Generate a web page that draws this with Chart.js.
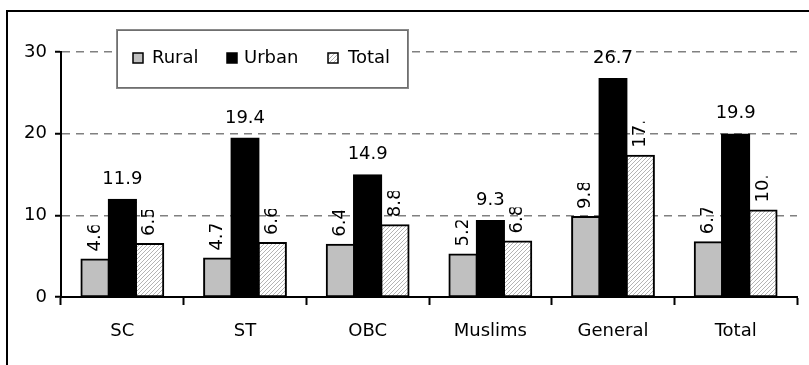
<!DOCTYPE html>
<html>
<head>
<meta charset="utf-8">
<script src="https://cdn.jsdelivr.net/npm/chart.js@4.4.1/dist/chart.umd.min.js"></script>
<style>
  html, body { margin: 0; padding: 0; background: #fff; }
  #wrap { width: 809px; height: 365px; }
</style>
</head>
<body>
<div id="wrap"><canvas id="c" width="809" height="365"></canvas></div>
<script>
// Categories and series values
const categories = ['SC', 'ST', 'OBC', 'Muslims', 'General', 'Total'];
const seriesNames = ['Rural', 'Urban', 'Total'];
const rural = [4.6, 4.7, 6.4, 5.2, 9.8, 6.7];
const urban = [11.9, 19.4, 14.9, 9.3, 26.7, 19.9];
const total = [6.5, 6.6, 8.8, 6.8, 17.3, 10.6];
const yTicks = [0, 10, 20, 30];

const FONT = '"DejaVu Sans", Verdana, sans-serif';

// Light diagonal hatch fill for the Total series
function makeHatch() {
  const n = 4;
  const c = document.createElement('canvas');
  c.width = n; c.height = n;
  const g = c.getContext('2d');
  g.fillStyle = '#ffffff';
  g.fillRect(0, 0, n, n);
  g.strokeStyle = '#b4b4b4';
  g.lineWidth = 1;
  g.beginPath();
  g.moveTo(0, n); g.lineTo(n, 0);
  g.moveTo(-1, 1); g.lineTo(1, -1);
  g.moveTo(n - 1, n + 1); g.lineTo(n + 1, n - 1);
  g.stroke();
  return g.createPattern(c, 'repeat');
}
const hatch = makeHatch();

// White page with the frame line along the top and left
const framePlugin = {
  id: 'frame',
  beforeDraw(chart) {
    const ctx = chart.ctx;
    ctx.save();
    ctx.fillStyle = '#fff';
    ctx.fillRect(0, 0, chart.width, chart.height);
    ctx.strokeStyle = '#000';
    ctx.lineWidth = 2;
    ctx.strokeRect(7, 11, chart.width + 20, chart.height + 20);
    ctx.restore();
  }
};

// Value labels: Urban upright above the bar, the others turned and clipped
const labelPlugin = {
  id: 'valueLabels',
  afterDatasetsDraw(chart) {
    const ctx = chart.ctx;
    ctx.save();
    ctx.font = '18px ' + FONT;
    ctx.fillStyle = '#000';
    chart.data.datasets.forEach((ds, di) => {
      const meta = chart.getDatasetMeta(di);
      meta.data.forEach((bar, i) => {
        const txt = ds.data[i].toFixed(1);
        if (di === 1) {
          ctx.textAlign = 'center';
          ctx.textBaseline = 'alphabetic';
          ctx.fillText(txt, bar.x, bar.y - 16);
        } else {
          ctx.save();
          ctx.translate(bar.x, bar.y - 8);
          ctx.rotate(-Math.PI / 2);
          ctx.beginPath();
          ctx.rect(0, -15, 26, 30);
          ctx.clip();
          ctx.textAlign = 'left';
          ctx.textBaseline = 'middle';
          ctx.fillText(txt, 0, 0);
          ctx.restore();
        }
      });
    });
    ctx.restore();
  }
};

// Boxed legend sitting inside the plot
const legendPlugin = {
  id: 'boxLegend',
  afterDraw(chart) {
    const ctx = chart.ctx;
    ctx.save();
    const bx = 117, by = 30, bw = 291, bh = 58;
    ctx.fillStyle = '#fff';
    ctx.fillRect(bx, by, bw, bh);
    ctx.strokeStyle = '#8a8a8a';
    ctx.lineWidth = 2;
    ctx.strokeRect(bx, by, bw, bh);
    ctx.strokeStyle = '#555';
    ctx.lineWidth = 1;
    ctx.setLineDash([1, 1]);
    ctx.strokeRect(bx + 0.5, by + 0.5, bw - 1, bh - 1);
    ctx.setLineDash([]);
    const markerX = [133, 227, 328];
    const textX = [152, 244, 348];
    const cy = 58;
    ctx.font = '18px ' + FONT;
    ctx.textAlign = 'left';
    ctx.textBaseline = 'middle';
    chart.data.datasets.forEach((ds, i) => {
      ctx.fillStyle = ds.backgroundColor;
      ctx.fillRect(markerX[i], cy - 5, 10, 10);
      ctx.strokeStyle = '#000';
      ctx.lineWidth = 1.5;
      ctx.strokeRect(markerX[i], cy - 5, 10, 10);
      ctx.fillStyle = '#000';
      ctx.fillText(ds.label, textX[i], cy);
    });
    ctx.restore();
  }
};

const barCommon = {
  borderColor: '#000',
  borderWidth: 2,
  borderSkipped: false,
  inflateAmount: 1,
  categoryPercentage: 0.667,
  barPercentage: 1.0
};

new Chart(document.getElementById('c'), {
  type: 'bar',
  data: {
    labels: categories,
    datasets: [
      Object.assign({ label: seriesNames[0], data: rural, backgroundColor: '#c0c0c0' }, barCommon),
      Object.assign({ label: seriesNames[1], data: urban, backgroundColor: '#000000' }, barCommon),
      Object.assign({ label: seriesNames[2], data: total, backgroundColor: hatch }, barCommon)
    ]
  },
  options: {
    responsive: false,
    animation: false,
    events: [],
    layout: { padding: { left: 0, top: 52, right: 12, bottom: 0 } },
    plugins: { legend: { display: false }, tooltip: { enabled: false } },
    scales: {
      x: {
        afterFit(s) { s.height = 68; },
        grid: {
          offset: true,
          drawOnChartArea: false,
          drawTicks: true,
          tickLength: 8,
          tickColor: '#000',
          tickWidth: 2
        },
        border: { color: '#000', width: 2 },
        ticks: { color: '#000', font: { family: FONT, size: 18 }, padding: 16 }
      },
      y: {
        min: 0,
        max: 30,
        afterFit(s) { s.width = 61; },
        afterBuildTicks(s) { s.ticks = yTicks.map(v => ({ value: v })); },
        grid: {
          color: (c) => (c.tick && c.tick.value === 0 ? 'rgba(0,0,0,0)' : '#808080'),
          lineWidth: 1.5,
          drawTicks: true,
          tickLength: 6,
          tickColor: '#000',
          tickWidth: 2
        },
        border: { color: '#000', width: 2, dash: [8, 6] },
        ticks: { color: '#000', font: { family: FONT, size: 18 }, padding: 8 }
      }
    }
  },
  plugins: [framePlugin, labelPlugin, legendPlugin]
});
</script>
</body>
</html>
